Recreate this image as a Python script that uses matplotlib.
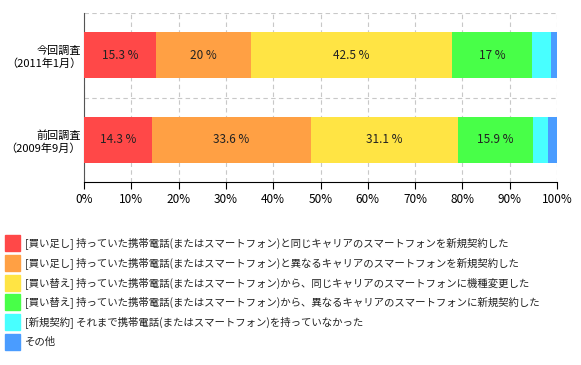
import numpy as np
import matplotlib.pyplot as plt
from matplotlib.patches import Rectangle

plt.rcParams['font.family'] = ['Noto Sans CJK JP', 'DejaVu Sans']

surveys = ['今回調査\n（2011年1月）', '前回調査\n（2009年9月）']
categories = [
    '[買い足し] 持っていた携帯電話(またはスマートフォン)と同じキャリアのスマートフォンを新規契約した',
    '[買い足し] 持っていた携帯電話(またはスマートフォン)と異なるキャリアのスマートフォンを新規契約した',
    '[買い替え] 持っていた携帯電話(またはスマートフォン)から、同じキャリアのスマートフォンに機種変更した',
    '[買い替え] 持っていた携帯電話(またはスマートフォン)から、異なるキャリアのスマートフォンに新規契約した',
    '[新規契約] それまで携帯電話(またはスマートフォン)を持っていなかった',
    'その他',
]
current = [15.3, 20, 42.5, 17, 3.9, 1.3]
previous = [14.3, 33.6, 31.1, 15.9, 3.1, 2.0]
colors = ['#ff4848', '#ffa044', '#ffe444', '#48ff48', '#48ffff', '#4a9cff']
x_ticks = [0, 10, 20, 30, 40, 50, 60, 70, 80, 90, 100]

fig = plt.figure(figsize=(5.81, 3.65), dpi=100)
ax = fig.add_axes([84 / 581, 1 - 182 / 365, 473 / 581, 169 / 365])

data = np.array([current, previous])
left = np.zeros(len(surveys))
for i, col in enumerate(colors):
    vals = data[:, i]
    ax.barh(range(len(surveys)), vals, left=left, height=0.55, color=col, zorder=3)
    if i < 4:
        for j, v in enumerate(vals):
            ax.text(left[j] + v / 2, j, f'{v:g} %', ha='center', va='center',
                    fontsize=8.5, color='#222222', zorder=4)
    left += vals

ax.set_xlim(0, 100)
ax.set_ylim(1.5, -0.5)
ax.set_xticks(x_ticks)
ax.set_xticklabels([f'{t}%' for t in x_ticks], fontsize=8.5)
ax.set_yticks(range(len(surveys)))
ax.set_yticklabels(surveys, fontsize=8, linespacing=1.25)
ax.set_yticks([-0.5, 0.5], minor=True)
ax.tick_params(axis='y', which='both', length=0, pad=2)
ax.tick_params(axis='x', length=5, color='black', pad=3)
ax.grid(axis='x', which='major', color='#c8c8c8', linestyle=(0, (4, 3)), linewidth=0.8, zorder=0)
ax.grid(axis='y', which='minor', color='#c8c8c8', linestyle=(0, (4, 3)), linewidth=0.8, zorder=0)
for s in ['top', 'right']:
    ax.spines[s].set_visible(False)
ax.spines['left'].set_color('#555555')
ax.spines['bottom'].set_color('black')

# legend
for k, (lab, col) in enumerate(zip(categories, colors)):
    y = 243 + k * 19.8
    fig.patches.append(Rectangle((5 / 581, 1 - (y + 8) / 365), 15 / 581, 16 / 365,
                                 transform=fig.transFigure, color=col))
    fig.text(25 / 581, 1 - y / 365, lab, fontsize=7.5, va='center', ha='left', color='#222222')

fig.savefig('out.png', dpi=100)
